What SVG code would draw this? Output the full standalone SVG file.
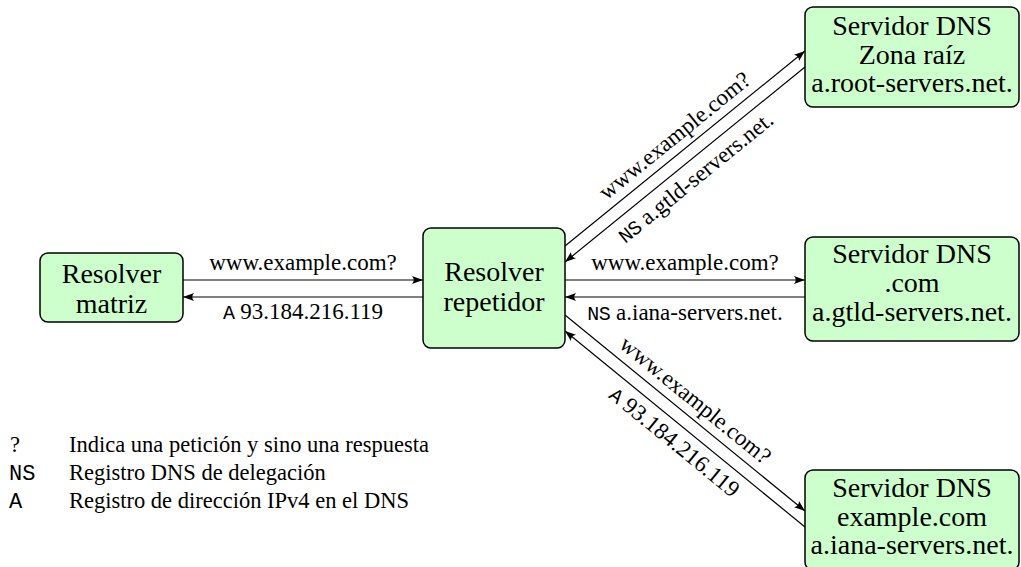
<svg xmlns="http://www.w3.org/2000/svg" width="1021" height="567" viewBox="0 0 1021 567">
  <style>
    .box { fill: #ccffcc; stroke: #000; stroke-width: 1.5; }
    .node { font-family: 'Liberation Serif', 'Times New Roman', 'DejaVu Serif', serif; font-size: 28px; fill: #000; text-anchor: middle; }
    .lbl { font-family: 'Liberation Serif', 'Times New Roman', 'DejaVu Serif', serif; font-size: 23px; fill: #000; text-anchor: middle; }
    .leg { font-family: 'Liberation Serif', 'Times New Roman', 'DejaVu Serif', serif; font-size: 22.5px; fill: #000; }
    .tt { font-family: 'Liberation Mono', 'Courier New', 'DejaVu Sans Mono', monospace; font-size: 20px; letter-spacing: -0.5px; }
    .leg.tt { font-size: 22px; letter-spacing: 0; }
    .edge { stroke: #000; stroke-width: 1.2; fill: none; marker-end: url(#tip); }
  </style>
  <defs>
    <marker id="tip" markerUnits="userSpaceOnUse" markerWidth="12" markerHeight="9" refX="11" refY="4.5" orient="auto">
      <path d="M0,0.5 Q3.5,4.5 0,8.5 L11,4.5 Z" fill="#000"/>
    </marker>
  </defs>

  <!-- connectors -->
  <g id="connectors">
    <line class="edge" x1="183" y1="280" x2="423" y2="280"/>
    <line class="edge" x1="423" y1="297" x2="183" y2="297"/>
    <line class="edge" x1="565" y1="280" x2="805" y2="280"/>
    <line class="edge" x1="805" y1="297" x2="565" y2="297"/>
    <line class="edge" x1="565" y1="246" x2="805" y2="51"/>
    <line class="edge" x1="805" y1="67" x2="565" y2="262"/>
    <line class="edge" x1="565" y1="315" x2="805" y2="511"/>
    <line class="edge" x1="805" y1="527" x2="565" y2="331"/>

    <text class="lbl" x="303" y="270">www.example.com?</text>
    <text class="lbl" x="303" y="319"><tspan class="tt">A</tspan> 93.184.216.119</text>
    <text class="lbl" x="685" y="270">www.example.com?</text>
    <text class="lbl" x="685" y="320"><tspan class="tt">NS</tspan> a.iana-servers.net.</text>
    <text class="lbl" transform="translate(685,148.5) rotate(-39.1)" x="0" y="-9">www.example.com?</text>
    <text class="lbl" transform="translate(685,164.5) rotate(-39.1)" x="0" y="24"><tspan class="tt">NS</tspan> a.gtld-servers.net.</text>
    <text class="lbl" transform="translate(685,413) rotate(39.2)" x="0" y="-9">www.example.com?</text>
    <text class="lbl" transform="translate(685,429) rotate(39.2)" x="0" y="24"><tspan class="tt">A</tspan> 93.184.216.119</text>
  </g>

  <!-- nodes -->
  <g id="resolver-matriz">
    <rect class="box" x="40" y="253" width="143" height="69" rx="8"/>
    <text class="node" x="111.5" y="283">Resolver</text>
    <text class="node" x="111.5" y="313">matriz</text>
  </g>
  <g id="resolver-repetidor">
    <rect class="box" x="423" y="228" width="142" height="120" rx="8"/>
    <text class="node" x="494" y="281">Resolver</text>
    <text class="node" x="494" y="311">repetidor</text>
  </g>
  <g id="dns-raiz">
    <rect class="box" x="805" y="7" width="214" height="100" rx="8"/>
    <text class="node" x="912" y="35">Servidor DNS</text>
    <text class="node" x="912" y="64">Zona raíz</text>
    <text class="node" x="912" y="92">a.root-servers.net.</text>
  </g>
  <g id="dns-com">
    <rect class="box" x="805" y="237" width="214" height="104" rx="8"/>
    <text class="node" x="912" y="263">Servidor DNS</text>
    <text class="node" x="912" y="292">.com</text>
    <text class="node" x="912" y="321">a.gtld-servers.net.</text>
  </g>
  <g id="dns-example">
    <rect class="box" x="805" y="470" width="214" height="100" rx="8"/>
    <text class="node" x="912" y="497">Servidor DNS</text>
    <text class="node" x="912" y="526">example.com</text>
    <text class="node" x="912" y="554">a.iana-servers.net.</text>
  </g>

  <!-- legend -->
  <g id="legend">
    <text class="leg" x="10" y="452">?</text>
    <text class="leg" x="69" y="452">Indica una petición y sino una respuesta</text>
    <text class="leg tt" x="9" y="480">NS</text>
    <text class="leg" x="69" y="480">Registro DNS de delegación</text>
    <text class="leg tt" x="9" y="508">A</text>
    <text class="leg" x="69" y="508">Registro de dirección IPv4 en el DNS</text>
  </g>
</svg>
